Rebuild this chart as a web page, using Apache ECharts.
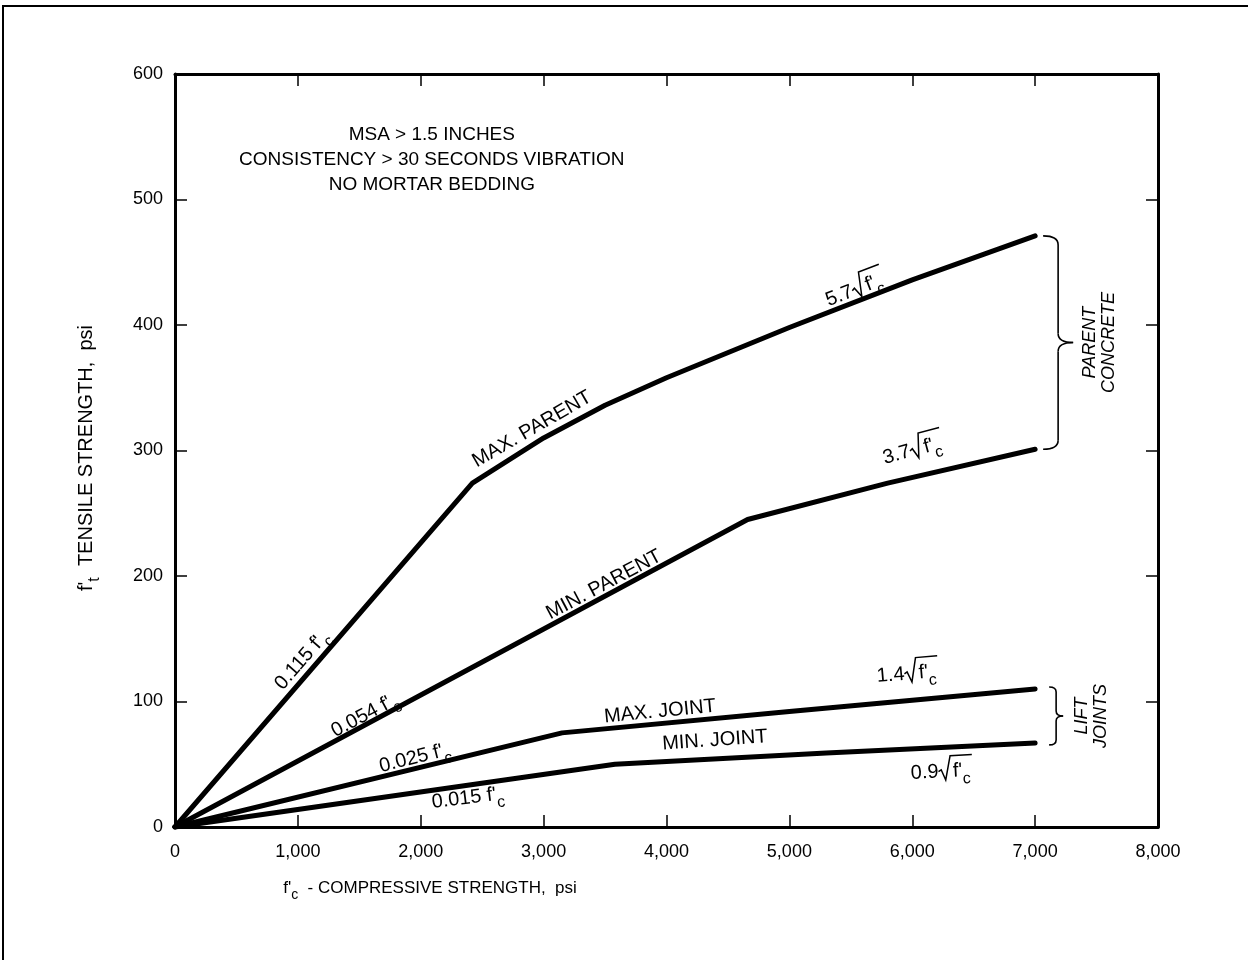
<!DOCTYPE html>
<html>
<head>
<meta charset="utf-8">
<script src="https://cdn.jsdelivr.net/npm/echarts@6/dist/echarts.min.js"></script>
<style>
  html, body { margin: 0; padding: 0; background: #fff; }
  #chart { width: 1248px; height: 960px; }
</style>
</head>
<body>
<div id="chart"></div>
<script>
// Compressive strength f'c (psi) and tensile strength f't (psi) for each envelope
const maxParentFc = [0, 2420, 3000, 3500, 4000, 5000, 6000, 7000];
const maxParentFt = [0, 274, 310, 336, 358, 398, 436, 471];
const minParentFc = [0, 4660, 5800, 7000];
const minParentFt = [0, 245, 274, 301];
const maxJointFc = [0, 3150, 5000, 7000];
const maxJointFt = [0, 75, 92, 110];
const minJointFc = [0, 3580, 5300, 7000];
const minJointFt = [0, 50, 59, 67];

const xTickValues = [0, 1000, 2000, 3000, 4000, 5000, 6000, 7000, 8000];
const yTickValues = [0, 100, 200, 300, 400, 500, 600];

const noteLines = ['MSA > 1.5 INCHES', 'CONSISTENCY > 30 SECONDS VIBRATION', 'NO MORTAR BEDDING'];

// Curve annotations: "_x" = subscript x, "√{...}" = radical with overline
const curveNotes = [
  { text: "0.115 f'_c",  fc: 1034, ft: 133, angle: 49 },
  { text: 'MAX. PARENT', fc: 2905, ft: 317, angle: 30 },
  { text: "5.7√{f'_c}",  fc: 5540, ft: 428, angle: 21 },
  { text: "0.054 f'_c",  fc: 1546, ft: 89,  angle: 28 },
  { text: 'MIN. PARENT', fc: 3491, ft: 193, angle: 28 },
  { text: "3.7√{f'_c}",  fc: 6010, ft: 300, angle: 15 },
  { text: "0.025 f'_c",  fc: 1953, ft: 55,  angle: 14 },
  { text: 'MAX. JOINT',  fc: 3947, ft: 92,  angle: 5.5 },
  { text: "1.4√{f'_c}",  fc: 5965, ft: 122, angle: 5 },
  { text: 'MIN. JOINT',  fc: 4394, ft: 69,  angle: 4 },
  { text: "0.015 f'_c",  fc: 2384, ft: 23,  angle: 7 },
  { text: "0.9√{f'_c}",  fc: 6242, ft: 44,  angle: 3 }
];

const FONT = '"Liberation Sans", Arial, Helvetica, sans-serif';
const INK = '#000';

const measureCtx = document.createElement('canvas').getContext('2d');
function textWidth(s, size, style) {
  measureCtx.font = (style ? style + ' ' : '') + size + 'px ' + FONT;
  return measureCtx.measureText(s).width;
}

function pairs(xs, ys) { return xs.map((x, i) => [x, ys[i]]); }

// Lay out a small formula string as a centred run of graphic children
function formulaChildren(src, size, style) {
  const subSize = Math.round(size * 0.8);
  const fontOf = (s) => (style ? style + ' ' : '') + s + 'px ' + FONT;
  const children = [];
  let x = 0, radStart = null, i = 0;
  while (i < src.length) {
    const ch = src[i];
    if (ch === '√' && src[i + 1] === '{') {
      radStart = x; x += size * 0.72; i += 2; continue;
    }
    if (ch === '}') {
      const top = -size * 0.78;
      children.push({
        type: 'polyline',
        shape: { points: [
          [radStart, -size * 0.02],
          [radStart + size * 0.14, -size * 0.1],
          [radStart + size * 0.34, size * 0.42],
          [radStart + size * 0.62, top],
          [x + size * 0.12, top]
        ] },
        style: { stroke: INK, lineWidth: 1.5, fill: 'none' }
      });
      x += size * 0.15; i++; continue;
    }
    if (ch === '_') {
      const t = src[i + 1];
      children.push({ type: 'text', x: x, y: size * 0.42,
        style: { text: t, font: fontOf(subSize), fill: INK, align: 'left', verticalAlign: 'middle' } });
      x += textWidth(t, subSize, style); i += 2; continue;
    }
    let j = i;
    while (j < src.length && !'√_}'.includes(src[j])) j++;
    const run = src.slice(i, j);
    children.push({ type: 'text', x: x, y: 0,
      style: { text: run, font: fontOf(size), fill: INK, align: 'left', verticalAlign: 'middle' } });
    x += textWidth(run, size, style); i = j;
  }
  const half = x / 2;
  children.forEach(c => {
    if (c.type === 'text') c.x -= half;
    else c.shape.points.forEach(p => { p[0] -= half; });
  });
  return children;
}

function formulaGroup(src, cx, cy, angleDeg, size, style) {
  return { type: 'group', x: cx, y: cy, rotation: angleDeg * Math.PI / 180,
           children: formulaChildren(src, size, style) };
}

// Curly brace opening to the left, tip pointing right
function brace(x0, yTop, yBot, depth, r) {
  const xm = x0 + depth / 2, xt = x0 + depth, ym = (yTop + yBot) / 2;
  const st = { stroke: INK, lineWidth: 1.6, fill: 'none' };
  return [
    { type: 'bezierCurve', shape: { x1: x0, y1: yTop, x2: xm, y2: yTop + r, cpx1: xm, cpy1: yTop }, style: st },
    { type: 'line', shape: { x1: xm, y1: yTop + r, x2: xm, y2: ym - r }, style: st },
    { type: 'bezierCurve', shape: { x1: xm, y1: ym - r, x2: xt, y2: ym, cpx1: xm, cpy1: ym }, style: st },
    { type: 'bezierCurve', shape: { x1: xt, y1: ym, x2: xm, y2: ym + r, cpx1: xm, cpy1: ym }, style: st },
    { type: 'line', shape: { x1: xm, y1: ym + r, x2: xm, y2: yBot - r }, style: st },
    { type: 'bezierCurve', shape: { x1: xm, y1: yBot - r, x2: x0, y2: yBot, cpx1: xm, cpy1: yBot }, style: st }
  ];
}

const chart = echarts.init(document.getElementById('chart'), null, { renderer: 'canvas' });

const axisLineStyle = { color: INK, width: 3 };
const tickStyle = { inside: true, length: 12, lineStyle: { color: INK, width: 1.5 } };
const fmtX = v => xTickValues.includes(v) ? v.toLocaleString('en-US') : '';
const fmtY = v => yTickValues.includes(v) ? String(v) : '';

const lineSeries = (name, xs, ys) => ({
  name, type: 'line', data: pairs(xs, ys), showSymbol: false, symbol: 'none', silent: true,
  lineStyle: { color: INK, width: 5, cap: 'round', join: 'round' }, animation: false, z: 3
});

chart.setOption({
  backgroundColor: '#fff',
  animation: false,
  grid: { left: 175, right: 90, top: 74, bottom: 133 },
  xAxis: [
    { type: 'value', min: 0, max: 8000, interval: 1000, position: 'bottom',
      axisLine: { show: true, onZero: false, lineStyle: axisLineStyle }, axisTick: tickStyle,
      axisLabel: { formatter: fmtX, color: INK, fontSize: 18, fontFamily: FONT, margin: 16 },
      splitLine: { show: false } },
    { type: 'value', min: 0, max: 8000, interval: 1000, position: 'top',
      axisLine: { show: true, onZero: false, lineStyle: axisLineStyle }, axisTick: tickStyle,
      axisLabel: { show: false }, splitLine: { show: false } }
  ],
  yAxis: [
    { type: 'value', min: 0, max: 600, interval: 100, position: 'left',
      axisLine: { show: true, onZero: false, lineStyle: axisLineStyle }, axisTick: tickStyle,
      axisLabel: { formatter: fmtY, color: INK, fontSize: 18, fontFamily: FONT, margin: 12 },
      splitLine: { show: false } },
    { type: 'value', min: 0, max: 600, interval: 100, position: 'right',
      axisLine: { show: true, onZero: false, lineStyle: axisLineStyle }, axisTick: tickStyle,
      axisLabel: { show: false }, splitLine: { show: false } }
  ],
  series: [
    lineSeries('Max. parent', maxParentFc, maxParentFt),
    lineSeries('Min. parent', minParentFc, minParentFt),
    lineSeries('Max. joint', maxJointFc, maxJointFt),
    lineSeries('Min. joint', minJointFc, minJointFt)
  ]
});

function px(fc, ft) { return chart.convertToPixel({ gridIndex: 0 }, [fc, ft]); }

const graphics = [];

// Page frame (top and left edges)
graphics.push({ type: 'polyline', shape: { points: [[3, 970], [3, 6], [1270, 6]] },
  style: { stroke: INK, lineWidth: 2, fill: 'none' }, z: 10 });

// Test-condition note
const notePos = px(2090, 532);
noteLines.forEach((t, k) => {
  graphics.push({ type: 'text', x: notePos[0], y: notePos[1] + (k - 1) * 25,
    style: { text: t, font: '19px ' + FONT, fill: INK, align: 'center', verticalAlign: 'middle' } });
});

// Curve annotations
curveNotes.forEach(n => {
  const p = px(n.fc, n.ft);
  graphics.push(formulaGroup(n.text, p[0], p[1], n.angle, 20));
});

// Axis titles
graphics.push(formulaGroup("f'_c  - COMPRESSIVE STRENGTH,  psi", 430, 888, 0, 17));
graphics.push(formulaGroup("f'_t  TENSILE STRENGTH,  psi", 86, 458, 90, 20));

// Brackets grouping the envelopes
const endX = px(7000, 0)[0];
const pTop = px(7000, maxParentFt[maxParentFt.length - 1])[1];
const pBot = px(7000, minParentFt[minParentFt.length - 1])[1];
graphics.push(...brace(endX + 8, pTop, pBot, 30, 9));
const jTop = px(7000, maxJointFt[maxJointFt.length - 1])[1] - 2;
const jBot = px(7000, minJointFt[minJointFt.length - 1])[1] + 2;
graphics.push(...brace(endX + 14, jTop, jBot, 14, 5));

graphics.push({ type: 'text', x: endX + 64, y: (pTop + pBot) / 2, rotation: Math.PI / 2,
  style: { text: 'PARENT\nCONCRETE', font: 'italic 18px ' + FONT, fill: INK, align: 'center',
           verticalAlign: 'middle', lineHeight: 19 } });
graphics.push({ type: 'text', x: endX + 56, y: (jTop + jBot) / 2, rotation: Math.PI / 2,
  style: { text: 'LIFT\nJOINTS', font: 'italic 18px ' + FONT, fill: INK, align: 'center',
           verticalAlign: 'middle', lineHeight: 19 } });

chart.setOption({ graphic: { elements: graphics } });
</script>
</body>
</html>
